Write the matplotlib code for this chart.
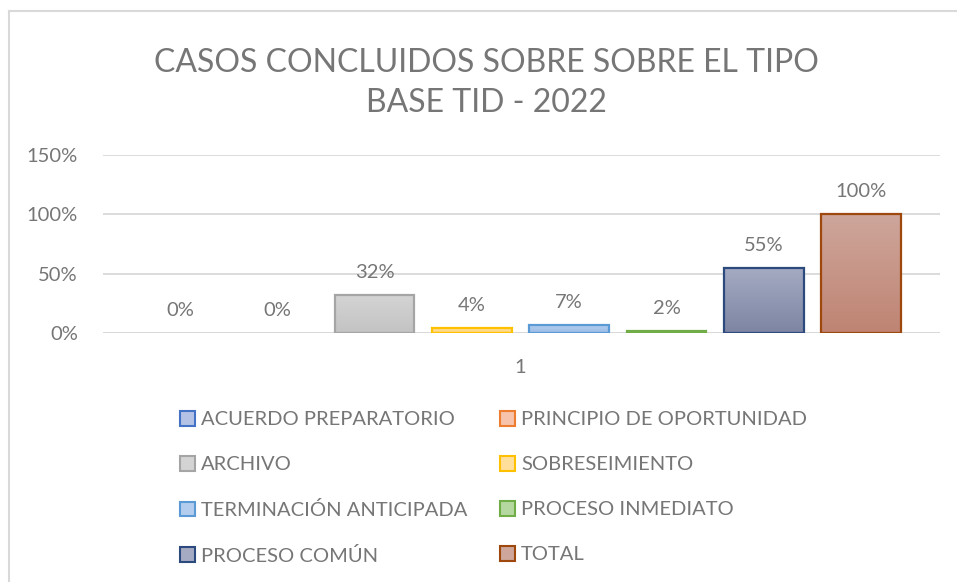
import matplotlib
matplotlib.use("Agg")
import matplotlib.pyplot as plt
import numpy as np
from matplotlib.colors import LinearSegmentedColormap
from matplotlib.patches import Patch, Rectangle
from matplotlib.ticker import FuncFormatter

# data
series = ["ACUERDO PREPARATORIO", "PRINCIPIO DE OPORTUNIDAD", "ARCHIVO",
          "SOBRESEIMIENTO", "TERMINACIÓN ANTICIPADA", "PROCESO INMEDIATO",
          "PROCESO COMÚN", "TOTAL"]
values = [0.00, 0.00, 0.32, 0.04, 0.07, 0.02, 0.55, 1.00]
category = "1"

# styles (edge, gradient top, gradient bottom)
edges = ["#4472C4", "#ED7D31", "#A5A5A5", "#FFC000", "#5B9BD5", "#70AD47", "#2C4A7E", "#9E480E"]
tops = ["#B4C2E6", "#F7C3AA", "#D4D4D4", "#FFDF9A", "#B3CDEE", "#B5D8A0", "#A5ABC2", "#CEA69B"]
bottoms = ["#94A7D8", "#F2A987", "#C3C3C3", "#FFD47A", "#9DBDE6", "#9CC883", "#7D85A3", "#BF8473"]

txt = "#767676"
plt.rcParams["font.family"] = ["Lato", "DejaVu Sans"]

fig = plt.figure(figsize=(9.57, 5.82), dpi=100)
ax = fig.add_axes([103 / 957, 1 - 333 / 582, (940 - 103) / 957, (333 - 155) / 582])

x = np.arange(len(values))
width = 0.82
bar_edges = [e if v > 0 else "none" for e, v in zip(edges, values)]
bars = ax.bar(x, values, width=width, color="none", edgecolor=bar_edges, linewidth=1.6, zorder=3)
grad = np.linspace(0, 1, 100).reshape(-1, 1)
for b, t, bo in zip(bars, tops, bottoms):
    if b.get_height() <= 0:
        continue
    cmap = LinearSegmentedColormap.from_list("g", [bo, t])
    im = ax.imshow(grad, cmap=cmap, aspect="auto", origin="lower",
                   extent=[b.get_x(), b.get_x() + b.get_width(), 0, b.get_height()], zorder=2)
    clip = Rectangle((b.get_x(), 0), b.get_width(), b.get_height(), transform=ax.transData)
    im.set_clip_path(clip)

for xi, v in zip(x, values):
    ax.text(xi, v + 0.19, f"{v:.0%}", ha="center", va="center", fontsize=14.5, color=txt)

ax.set_xlim(-0.79, 7.81)
ax.set_ylim(0, 1.5)
ax.set_yticks([0, 0.5, 1.0, 1.5])
ax.yaxis.set_major_formatter(FuncFormatter(lambda v, p: f"{v:.0%}"))
ax.set_xticks([(len(values) - 1) / 2])
ax.set_xticklabels([category])
ax.tick_params(length=0, labelsize=14.5, colors=txt)
ax.tick_params(axis="y", pad=18)
ax.tick_params(axis="x", pad=19)
ax.grid(axis="y", color="#D9D9D9", linewidth=1.3, zorder=0)
ax.set_axisbelow(True)
for s in ax.spines.values():
    s.set_visible(False)
ax.axhline(0, color="#D9D9D9", linewidth=1.3, zorder=1)

fig.text(486 / 957, 1 - 63 / 582, "CASOS CONCLUIDOS SOBRE SOBRE EL TIPO",
         ha="center", va="center", fontsize=23, color=txt)
fig.text(486 / 957, 1 - 103 / 582, "BASE TID - 2022",
         ha="center", va="center", fontsize=23, color=txt)

# legend, column-major ordering for a row-wise look
handles = [Patch(facecolor=(t), edgecolor=e, linewidth=1.5) for t, e in zip(tops, edges)]
order = [0, 2, 4, 6, 1, 3, 5, 7]
fig.legend([handles[i] for i in order], [series[i] for i in order], ncol=2,
           loc="upper left", bbox_to_anchor=(172 / 957, 1 - 403 / 582), frameon=False,
           fontsize=14.5, labelcolor=txt, handlelength=0.75, handleheight=0.75,
           handletextpad=0.3, columnspacing=1.6, labelspacing=1.37, borderaxespad=0)

# chart border
fig.add_artist(plt.Line2D([9 / 957, 9 / 957], [0, 1 - 11 / 582], color="#D9D9D9", lw=1.5))
fig.add_artist(plt.Line2D([9 / 957, 1], [1 - 11 / 582, 1 - 11 / 582], color="#D9D9D9", lw=1.5))

fig.savefig("out.png", dpi=100)
